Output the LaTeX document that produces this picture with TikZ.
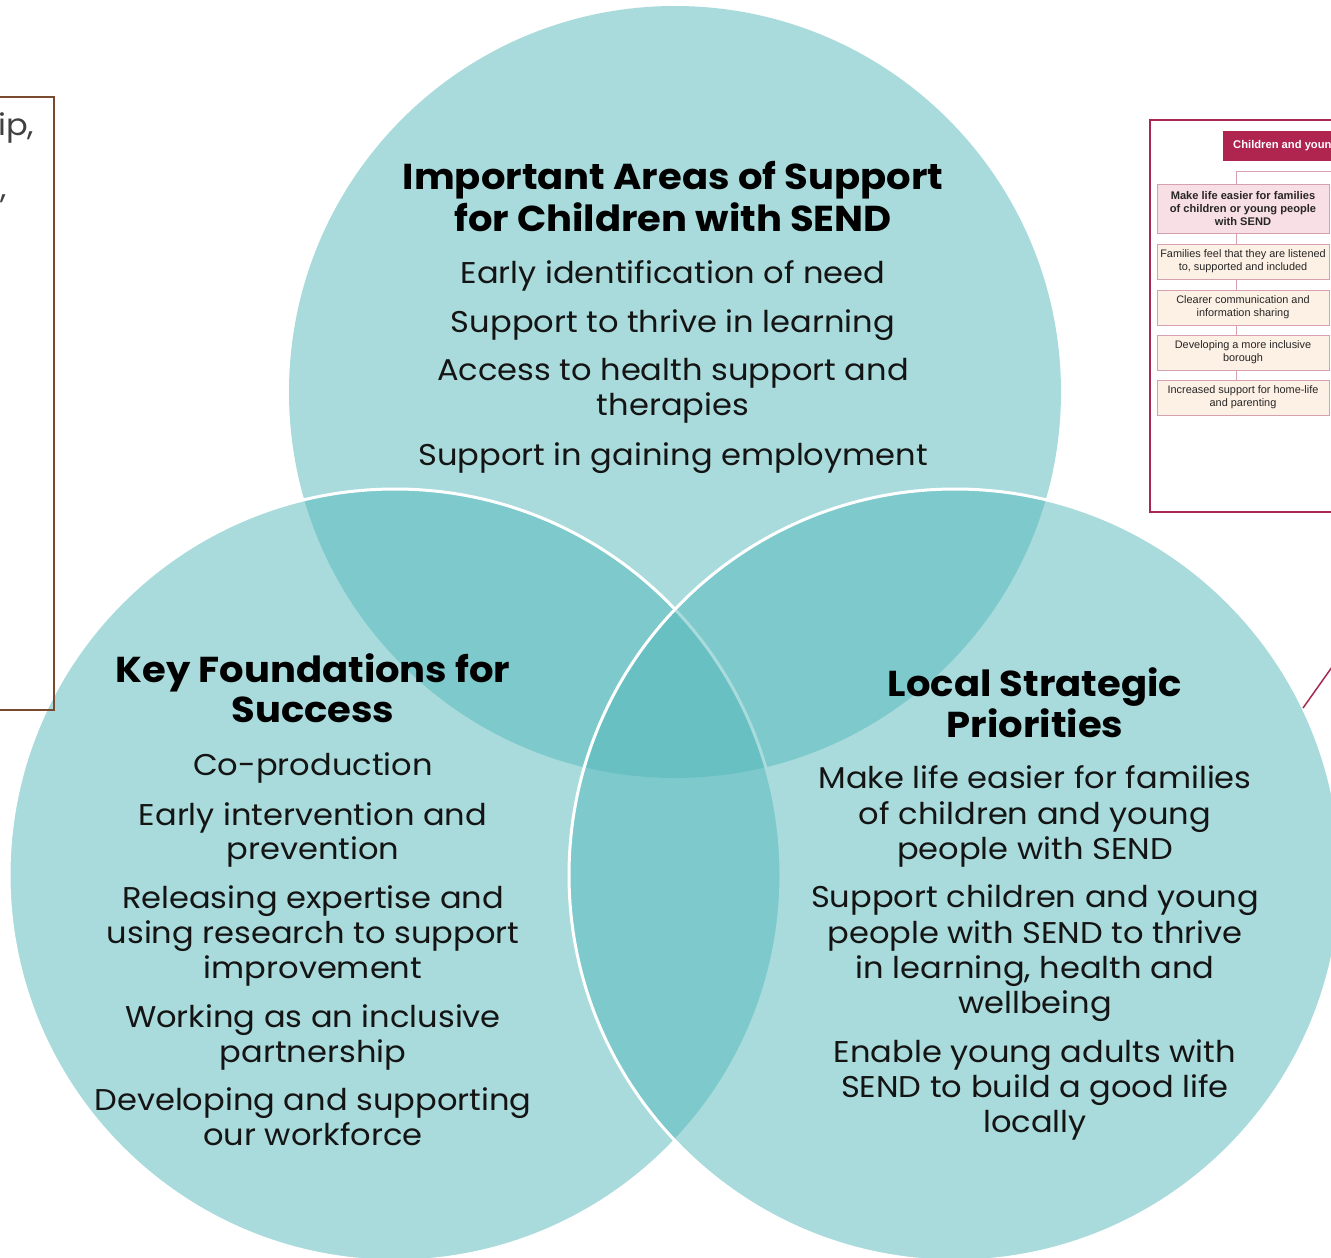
\documentclass[tikz,border=0pt]{standalone}
\usepackage{fontspec}
\setmainfont{Poppins}[FakeStretch=1.07]
\newfontfamily\arialf{Liberation Sans}
\definecolor{vteal}{RGB}{85,185,187}
\definecolor{txt}{RGB}{20,20,20}
\definecolor{crim}{RGB}{168,40,82}
\definecolor{crimfill}{RGB}{176,36,80}
\definecolor{pinkfill}{RGB}{248,222,229}
\definecolor{creamfill}{RGB}{253,240,228}
\definecolor{boxline}{RGB}{214,160,175}
\definecolor{brownline}{RGB}{122,74,46}
\definecolor{grytxt}{RGB}{64,64,64}
\tikzset{
  vcircle/.style={fill=vteal, fill opacity=0.5},
  vborder/.style={draw=white, line width=3pt},
  body/.style={font=\fontsize{30}{35}\selectfont, anchor=base, text=txt, inner sep=0pt},
  head/.style={font=\bfseries\fontsize{36}{42}\selectfont, anchor=base, text=black, inner sep=0pt},
  sidetxt/.style={font=\fontsize{30}{35}\selectfont, anchor=base west, text=grytxt, inner sep=0pt},
  frbox/.style={draw=boxline, line width=0.8pt, minimum width=172pt, align=center, inner sep=1pt, font=\arialf\fontsize{10.9}{12.8}\selectfont, text=black!85},
  frconn/.style={draw=boxline, line width=0.8pt}
}
\begin{document}
\begin{tikzpicture}[x=1pt,y=-1pt]
\useasboundingbox (0,0) rectangle (1331,1258);
\clip (0,0) rectangle (1331,1258);
\fill[white] (0,0) rectangle (1331,1258);

% Venn circles
\path[vcircle] (675,392) circle[radius=386pt];
\path[vcircle] (395,875) circle[radius=386pt];
\draw[vborder] (395,875) circle[radius=386pt];
\path[vcircle] (955,875) circle[radius=386pt];
\draw[vborder] (955,875) circle[radius=386pt];

% Left partial box
\draw[brownline, line width=1.5pt] (-10,97) rectangle (54,710);
\node[sidetxt] (lp1) at (-2,135) {ip,};
\node[sidetxt] (lp2) at (0,198) {,};

% Right partial box
\draw[crim, line width=1.8pt] (1150,120) rectangle (1345,512);
\node[fill=crimfill, minimum width=180pt, minimum height=30pt, anchor=north west, inner sep=0pt] (hdr) at (1223,131) {};
\node[anchor=west, text=white, font=\arialf\bfseries\fontsize{11.2}{12}\selectfont, inner sep=0pt] (hdrtxt) at (1233,146) {Children and young people};
\coordinate (tree) at (1236,171);
\coordinate (treeE) at (1345,171);
\node[frbox, fill=pinkfill, minimum height=49pt, font=\arialf\bfseries\fontsize{11.1}{12.7}\selectfont] (b1) at (1243,208.5) {Make life easier for families\\of children or young people\\with SEND};
\node[frbox, fill=creamfill, minimum height=35pt] (b2) at (1243,261.5) {Families feel that they are listened\\to, supported and included};
\node[frbox, fill=creamfill, minimum height=35pt] (b3) at (1243,307.5) {Clearer communication and\\information sharing};
\node[frbox, fill=creamfill, minimum height=35pt] (b4) at (1243,352.5) {Developing a more inclusive\\borough};
\node[frbox, fill=creamfill, minimum height=35pt] (b5) at (1243,397.5) {Increased support for home-life\\and parenting};
\draw[frconn] (treeE) -- (tree) -- (b1.north -| tree);
\draw[frconn] (b1.south -| tree) -- (b2.north -| tree);
\draw[frconn] (b2.south -| tree) -- (b3.north -| tree);
\draw[frconn] (b3.south -| tree) -- (b4.north -| tree);
\draw[frconn] (b4.south -| tree) -- (b5.north -| tree);
\coordinate (rl1) at (1303,708);
\coordinate (rl2) at (1337,660);
\draw[crim, line width=1.5pt] (rl1) -- (rl2);

% Top circle text
\node[head] (th1) at (673,189) {Important Areas of Support};
\node[head] (th2) at (673,231) {for Children with SEND};
\node[body] (t1) at (673,283) {Early identification of need};
\node[body] (t2) at (673,332) {Support to thrive in learning};
\node[body] (t3) at (673,380) {Access to health support and};
\node[body] (t4) at (673,415) {therapies};
\node[body] (t5) at (673,465) {Support in gaining employment};

% Left circle text
\node[head] (lh1) at (313,682) {Key Foundations for};
\node[head] (lh2) at (313,722) {Success};
\node[body] (l1) at (313,775) {Co-production};
\node[body] (l2) at (313,825) {Early intervention and};
\node[body] (l3) at (313,859) {prevention};
\node[body] (l4) at (313,908) {Releasing expertise and};
\node[body] (l5) at (313,943) {using research to support};
\node[body] (l6) at (313,978) {improvement};
\node[body] (l7) at (313,1027) {Working as an inclusive};
\node[body] (l8) at (313,1062) {partnership};
\node[body] (l9) at (313,1110) {Developing and supporting};
\node[body] (l10) at (313,1145) {our workforce};

% Right circle text
\node[head] (rh1) at (1035,696) {Local Strategic};
\node[head] (rh2) at (1035,737) {Priorities};
\node[body] (r1) at (1035,788) {Make life easier for families};
\node[body] (r2) at (1035,824) {of children and young};
\node[body] (r3) at (1035,859) {people with SEND};
\node[body] (r4) at (1035,907) {Support children and young};
\node[body] (r5) at (1035,943) {people with SEND to thrive};
\node[body] (r6) at (1035,978) {in learning, health and};
\node[body] (r7) at (1035,1013) {wellbeing};
\node[body] (r8) at (1035,1062) {Enable young adults with};
\node[body] (r9) at (1035,1097) {SEND to build a good life};
\node[body] (r10) at (1035,1132) {locally};
\end{tikzpicture}
\end{document}
